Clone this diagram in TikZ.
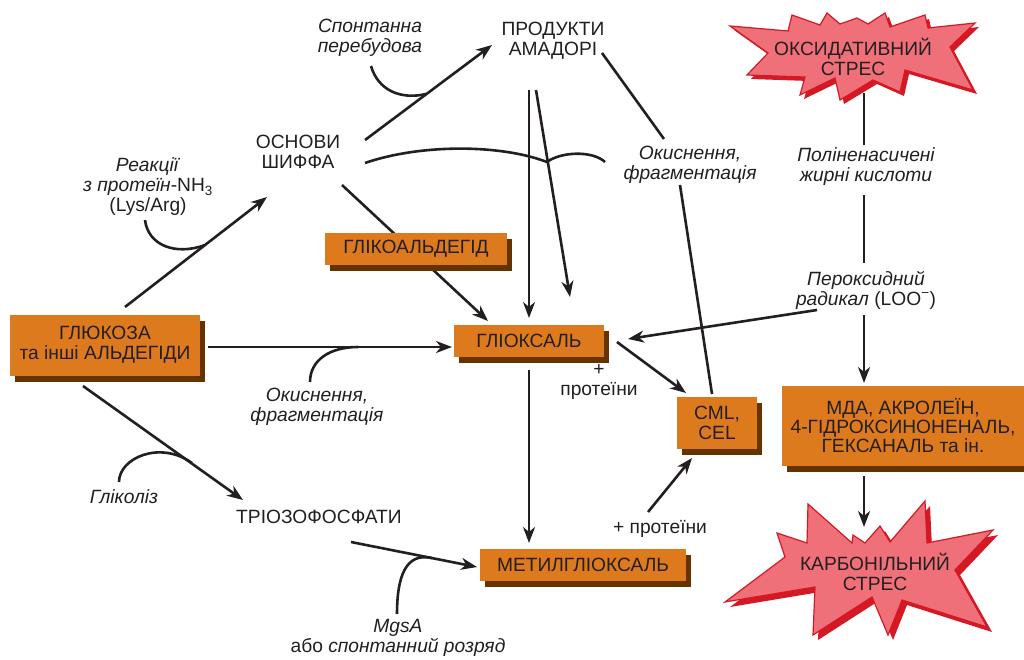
\documentclass[tikz,border=0pt]{standalone}
\usepackage{fontspec}
\setmainfont{Liberation Sans}
\usetikzlibrary{positioning}
\usetikzlibrary{arrows.meta}
\usetikzlibrary{shadows}
\usetikzlibrary{calc}

\definecolor{boxorange}{RGB}{222,122,30}
\definecolor{boxshadow}{RGB}{102,51,0}
\definecolor{starpink}{RGB}{240,112,122}
\definecolor{starred}{RGB}{212,24,36}
\definecolor{ink}{RGB}{35,31,32}

\tikzset{
  orangebox/.style={fill=boxorange, inner sep=0pt, align=center,
    drop shadow={shadow xshift=5pt, shadow yshift=-6pt, fill=boxshadow, opacity=1}},
  txt/.style={align=center, inner sep=1pt},
  note/.style={align=center, inner sep=1pt, font=\fontsize{19.2}{20}\selectfont\itshape},
  ln/.style={draw=ink, line width=2.6pt},
  arr/.style={ln, -{Stealth[length=16pt,width=12pt,inset=5pt]}},
  starfill/.style={fill=starpink, draw=starred, line width=1.2pt, line join=miter},
}

\begin{document}
\begin{tikzpicture}[x=1pt, y=-1pt, font=\fontsize{19.2}{20}\selectfont, text=ink]
  \useasboundingbox (0,0) rectangle (1024,659);

  % stars
  \fill[starred, shift={(4,4)}] (730,26) -- (788,31) -- (792,15) -- (820,25) -- (827,13) -- (840,24)
    -- (857,18) -- (868,24) -- (885,13) -- (890,27) -- (925,15) -- (928,28) -- (975,23)
    -- (950,47) -- (973,90) -- (905,70) -- (900,92) -- (873,80) -- (840,100) -- (835,78)
    -- (800,95) -- (805,77) -- (747,75) -- (768,53) -- cycle;
  \path[starfill] (730,26) -- (788,31) -- (792,15) -- (820,25) -- (827,13) -- (840,24)
    -- (857,18) -- (868,24) -- (885,13) -- (890,27) -- (925,15) -- (928,28) -- (975,23)
    -- (950,47) -- (973,90) -- (905,70) -- (900,92) -- (873,80) -- (840,100) -- (835,78)
    -- (800,95) -- (805,77) -- (747,75) -- (768,53) -- cycle;
  \fill[starred, shift={(5,5)}] (808,504) -- (852,543) -- (853,535) -- (865,543) -- (880,526)
    -- (890,542) -- (925,501) -- (927,543) -- (993,530) -- (955,570) -- (987,627)
    -- (902,600) -- (888,635) -- (872,597) -- (813,635) -- (815,587) -- (725,602)
    -- (785,557) -- (777,533) -- (807,543) -- cycle;
  \path[starfill] (808,504) -- (852,543) -- (853,535) -- (865,543) -- (880,526)
    -- (890,542) -- (925,501) -- (927,543) -- (993,530) -- (955,570) -- (987,627)
    -- (902,600) -- (888,635) -- (872,597) -- (813,635) -- (815,587) -- (725,602)
    -- (785,557) -- (777,533) -- (807,543) -- cycle;

  \node[txt] (OxStress) at (853,57) {ОКСИДАТИВНИЙ\\СТРЕС};
  \node[txt] (CarbStress) at (875,572) {КАРБОНІЛЬНИЙ\\СТРЕС};

  % boxes
  \node[orangebox, minimum width=190pt, minimum height=61pt] (GlucBox) at (105,345) {ГЛЮКОЗА\\та інші АЛЬДЕГІДИ};
  \node[orangebox, minimum width=150pt, minimum height=32pt] (GlyoxBox) at (529,341) {ГЛІОКСАЛЬ};
  \node[orangebox, minimum width=206pt, minimum height=32pt] (MgoBox) at (583,565) {МЕТИЛГЛІОКСАЛЬ};
  \node[orangebox, minimum width=80pt, minimum height=52pt] (CmlBox) at (717,423) {CML,\\CEL};
  \node[orangebox, minimum width=242pt, minimum height=80pt, font=\fontsize{19.2}{19}\selectfont] (MdaBox) at (903,426)
    {МДА, АКРОЛЕЇН,\\4-ГІДРОКСИНОНЕНАЛЬ,\\ГЕКСАНАЛЬ та ін.};

  % texts
  \node[txt] (SchiffLabel) at (298,152) {ОСНОВИ\\ШИФФА};
  \node[txt] (AmadoriLabel) at (553,41) {ПРОДУКТИ\\АМАДОРІ};
  \node[txt] (TrioLabel) at (319,517) {ТРІОЗОФОСФАТИ};
  \node[note] (SpontLabel) at (370,38) {Спонтанна\\перебудова};
  \node[txt] (ReactLabel) at (148,187) {\textit{Реакції}\\\textit{з протеїн}-NH\textsubscript{3}\\(Lys/Arg)};
  \node[note] (OxFragLow) at (317,407) {Окиснення,\\фрагментація};
  \node[note] (OxFragUp) at (690,165) {Окиснення,\\фрагментація};
  \node[note] (PufaLabel) at (866,167) {Поліненасичені\\жирні кислоти};
  \node[txt] (PeroxLabel) at (866,290) {\textit{Пероксидний}\\\textit{радикал} (LOO\textsuperscript{−})};
  \node[note] (GlycLabel) at (124,497) {Гліколіз};
  \node[txt] (MgsLabel) at (398,638) {\textit{MgsA}\\або \textit{спонтанний розряд}};
  \node[txt] (ProtOne) at (599,382) {+\\протеїни};
  \node[txt] (ProtTwo) at (660,529) {+ протеїни};

  % connectors
  \draw[arr] ($(GlucBox)+(20,-38)$) -- ($(SchiffLabel)+(-31,45)$);
  \draw[ln] ($(ReactLabel)+(-3,33)$) .. controls (148,245) and (175,256) .. (205,245);
  \draw[arr] ($(SchiffLabel)+(67,-12)$) -- ($(AmadoriLabel)+(-61,4)$);
  \draw[ln] ($(SpontLabel)+(1,28)$) .. controls (378,90) and (400,100) .. (426,94);
  \draw[ln] ($(SchiffLabel)+(67,11)$) .. controls (420,144) and (500,144) .. ($(AmadoriLabel)+(-6,121)$)
    .. controls (560,152) and (592,150) .. ($(OxFragUp)+(-85,-3)$);
  \draw[arr] ($(SchiffLabel)+(44,33)$) -- ($(GlyoxBox)+(-41,-20)$);
  \node[orangebox, minimum width=182pt, minimum height=32pt] (GlyAldBox) at (416,249) {ГЛІКОАЛЬДЕГІД};
  \draw[arr] ($(AmadoriLabel)+(-24,49)$) -- ($(GlyoxBox)+(0,-23)$);
  \draw[arr] ($(AmadoriLabel)+(-17,49)$) -- ($(GlyoxBox)+(41,-44)$);
  \draw[ln] ($(AmadoriLabel)+(49,12)$) -- ($(OxFragUp)+(-26,-26)$);
  \draw[ln] ($(OxFragUp)+(-10,20)$) -- ($(CmlBox)+(-5,-29)$);
  \draw[ln] ($(OxStress)+(11,36)$) -- ($(PufaLabel)+(-2,-22)$);
  \draw[ln] ($(PufaLabel)+(-2,28)$) -- ($(PeroxLabel)+(-2,-27)$);
  \draw[arr] ($(PeroxLabel)+(-49,20)$) -- ($(GlyoxBox)+(99,-2)$);
  \draw[arr] ($(PeroxLabel)+(-2,25)$) -- ($(MdaBox)+(-39,-43)$);
  \draw[arr] ($(MdaBox)+(-39,50)$) -- ($(CarbStress)+(-11,-45)$);
  \draw[arr] ($(GlyoxBox)+(88,1)$) -- ($(CmlBox)+(-31,-30)$);
  \draw[arr] ($(GlucBox)+(103,2)$) -- ($(GlyoxBox)+(-77,6)$);
  \draw[ln] ($(OxFragLow)+(-7,-25)$) .. controls (310,360) and (330,347) .. (358,347);
  \draw[arr] ($(GlyoxBox)+(0,29)$) -- ($(MgoBox)+(-54,-22)$);
  \draw[arr] ($(GlucBox)+(-22,41)$) -- ($(TrioLabel)+(-76,-17)$);
  \draw[ln] ($(GlycLabel)+(-5,-15)$) .. controls (119,458) and (160,440) .. (192,463);
  \draw[arr] ($(TrioLabel)+(32,25)$) -- ($(MgoBox)+(-106,2)$);
  \draw[ln] ($(MgsLabel)+(-1,-24)$) .. controls (397,578) and (405,552) .. (432,558);
  \draw[arr] ($(ProtTwo)+(-12,-17)$) -- ($(CmlBox)+(-25,35)$);
\end{tikzpicture}
\end{document}
